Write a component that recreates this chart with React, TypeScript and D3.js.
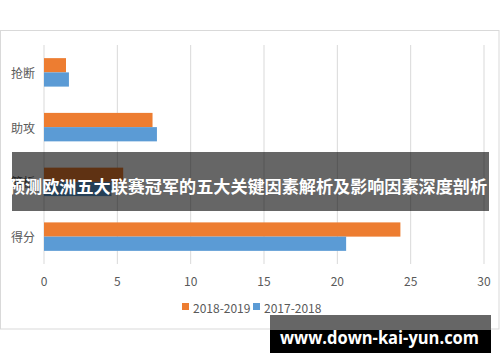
import React from "react";
import * as d3 from "d3";

const categories = ["抢断", "助攻", "篮板", "得分"];
const seriesNames = ["2018-2019", "2017-2018"];
const values2018_2019 = [1.5, 7.4, 5.4, 24.3];
const values2017_2018 = [1.7, 7.7, 4.6, 20.6];
const xTicks = [0, 5, 10, 15, 20, 25, 30];
const colors = ["#ED7D31", "#5B9BD5"];
const bannerTitle = "预测欧洲五大联赛冠军的五大关键因素解析及影响因素深度剖析";
const watermark = "www.down-kai-yun.com";

const W = 500;
const H = 362;
const font = "'Noto Sans CJK SC', 'Noto Sans', sans-serif";

export default function App() {
  const plotTop = 45;
  const plotBottom = 264;
  const x = d3.scaleLinear().domain([0, 30]).range([44, 484]);
  const y = d3.scaleBand<string>().domain(categories).range([plotTop, plotBottom]).paddingInner(0.48).paddingOuter(0.24);
  const inner = d3.scaleBand<string>().domain(seriesNames).range([0, y.bandwidth()]);
  const seriesVals = [values2018_2019, values2017_2018];

  return (
    <svg width={W} height={H} style={{ position: "absolute", left: 0, top: 0, background: "#fff" }} fontFamily={font}>
      <rect x={0.5} y={30.5} width={498.5} height={298.5} fill="#fff" stroke="#d9d9d9" />
      {xTicks.map((t) => (
        <line key={t} x1={x(t)} x2={x(t)} y1={plotTop} y2={plotBottom} stroke="#d9d9d9" strokeWidth={1} />
      ))}
      {categories.map((c, i) =>
        seriesNames.map((s, j) => (
          <rect
            key={c + s}
            x={x(0)}
            y={(y(c) as number) + (inner(s) as number)}
            width={x(seriesVals[j][i]) - x(0)}
            height={inner.bandwidth()}
            fill={colors[j]}
          />
        ))
      )}
      {categories.map((c) => (
        <text key={c} x={35} y={(y(c) as number) + y.bandwidth() / 2} textAnchor="end" dominantBaseline="central" fontSize={12} fill="#595959">
          {c}
        </text>
      ))}
      {xTicks.map((t) => (
        <text key={t} x={x(t)} y={280} textAnchor="middle" dominantBaseline="central" fontSize={12} fill="#595959">
          {t}
        </text>
      ))}
      <g>
        <rect x={182} y={303} width={7} height={7} fill={colors[0]} />
        <text x={193} y={307} dominantBaseline="central" fontSize={12} fill="#595959">{seriesNames[0]}</text>
        <rect x={253} y={303} width={7} height={7} fill={colors[1]} />
        <text x={264} y={307} dominantBaseline="central" fontSize={12} fill="#595959">{seriesNames[1]}</text>
      </g>
      <rect x={12} y={152} width={477} height={59} fill="#000" fillOpacity={0.6} />
      <text x={8} y={185} dominantBaseline="central" fontSize={17} fontWeight="bold" fill="#fff" textLength={479} lengthAdjust="spacingAndGlyphs">
        {bannerTitle}
      </text>
      <rect x={270} y={315} width={221} height={15} fill="#666" />
      <rect x={270} y={330} width={221} height={23} fill="#000" />
      <text x={280} y={337} dominantBaseline="central" fontSize={18} fontWeight="bold" fill="#fff" fontFamily="'Open Sans', 'Noto Sans', sans-serif" textLength={199} lengthAdjust="spacingAndGlyphs">
        {watermark}
      </text>
    </svg>
  );
}
